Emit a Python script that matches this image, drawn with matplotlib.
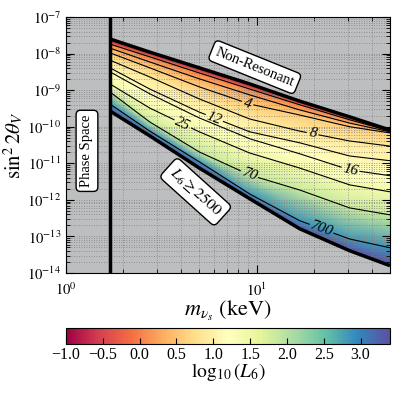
import numpy as np
import matplotlib.pyplot as plt
from matplotlib.colors import Normalize
from matplotlib.cm import ScalarMappable
from matplotlib.ticker import FuncFormatter

plt.rcParams['font.family'] = 'serif'
plt.rcParams['font.serif'] = ['Liberation Serif', 'DejaVu Serif']
plt.rcParams['mathtext.fontset'] = 'stix'

mass_keV = [1.7, 2.75, 5.0, 9.2, 16.8, 30.7, 50.0]

# log10(sin^2 2theta) of each L6 contour, one list per L6 value
L6_values = [0.1, 1, 2, 4, 8, 12, 16, 25, 70, 700, 2500]
log_s2_L6_0p1 = [-7.60, -7.96, -8.39, -8.83, -9.30, -9.73, -10.09]   # non-resonant edge
log_s2_L6_1 = [-7.74, -8.09, -8.53, -8.97, -9.40, -9.81, -10.12]
log_s2_L6_2 = [-7.85, -8.23, -8.69, -9.13, -9.54, -9.90, -10.14]
log_s2_L6_4 = [-7.98, -8.39, -8.91, -9.38, -9.68, -10.00, -10.17]
log_s2_L6_8 = [-8.18, -8.64, -9.24, -9.79, -10.12, -10.39, -10.53]
log_s2_L6_12 = [-8.39, -8.97, -9.60, -10.14, -10.44, -10.80, -10.93]
log_s2_L6_16 = [-8.50, -9.10, -9.76, -10.33, -10.74, -11.18, -11.34]
log_s2_L6_25 = [-8.83, -9.49, -10.14, -10.72, -11.13, -11.59, -11.78]
log_s2_L6_70 = [-9.05, -9.87, -10.69, -11.32, -11.73, -12.22, -12.41]
log_s2_L6_700 = [-9.38, -10.12, -10.96, -11.84, -12.57, -13.07, -13.31]
log_s2_L6_2500 = [-9.57, -10.25, -11.13, -11.97, -12.79, -13.39, -13.80]  # L6 >= 2500 edge

# contour lines without label, and labelled ones (position: log10 m, log10 sin^2)
plain_L6 = [1, 2]
label_L6 = [4, 8, 12, 16, 25, 70, 700]
label_pos = [(0.95, -9.40), (1.29, -10.28), (0.78, -9.73), (1.49, -11.24),
             (0.61, -9.95), (0.96, -11.32), (1.34, -12.79)]

m_min = 1.7  # phase space limit (keV)

rows = [log_s2_L6_0p1, log_s2_L6_1, log_s2_L6_2, log_s2_L6_4, log_s2_L6_8,
        log_s2_L6_12, log_s2_L6_16, log_s2_L6_25, log_s2_L6_70, log_s2_L6_700,
        log_s2_L6_2500]

Y = np.array(rows)
X = np.tile(np.log10(mass_keV), (len(rows), 1))
Z = np.tile(np.log10(L6_values)[:, None], (1, len(mass_keV)))

cmap = plt.get_cmap('Spectral')
norm = Normalize(vmin=-1, vmax=3.4)

fig = plt.figure(figsize=(3.99, 3.99), dpi=100)
ax = fig.add_axes([0.1654, 0.3158, 0.812, 0.6416])
ax.set_facecolor('#bdbebf')

ax.pcolormesh(X, Y, Z, shading='gouraud', cmap=cmap, norm=norm)

eps = 1e-6
ax.contour(X, Y, Z, levels=np.log10(plain_L6) + eps, colors='k', linewidths=0.8)
cs = ax.contour(X, Y, Z, levels=np.log10(label_L6) + eps, colors='k', linewidths=0.8)
lab = ax.clabel(cs, manual=label_pos, inline=True, inline_spacing=3,
                fmt=lambda v: '%d' % round(10 ** v), fontsize=11)
for t in lab:
    t.set_fontstyle('italic')

# boundaries
ax.plot(X[0], Y[0], color='k', lw=2.5, solid_capstyle='butt')
ax.plot(X[-1], Y[-1], color='k', lw=2.5, solid_capstyle='butt')
ax.axvline(np.log10(m_min), color='k', lw=2.5)

ax.set_xlim(0, np.log10(50))
ax.set_ylim(-14, -7)

ax.set_xticks([0, 1])
ax.set_xticklabels([r'$10^{0}$', r'$10^{1}$'])
ax.set_xticks(np.log10([2, 3, 4, 5, 6, 7, 8, 9, 20, 30, 40]), minor=True)
yt = np.arange(-14, -6)
ax.set_yticks(yt)
ax.set_yticklabels([r'$10^{%d}$' % v for v in yt])
ax.set_yticks([n + np.log10(k) for n in range(-14, -7) for k in range(2, 10)], minor=True)
ax.tick_params(which='both', direction='in', top=True, right=True, labelsize=10.5)
ax.tick_params(axis='x', pad=6)
ax.tick_params(which='major', length=6, width=0.8)
ax.tick_params(which='minor', length=3, width=0.6)
ax.grid(True, which='both', color='0.5', lw=0.6, dashes=(1, 2))

ax.set_xlabel(r'$m_{\nu_s}\ (\mathrm{keV})$', fontsize=16, labelpad=0)
ax.set_ylabel(r'$\sin^2 2\theta_V$', fontsize=15, labelpad=1)

box = dict(boxstyle='round,pad=0.3', fc='white', ec='k', lw=1)
ax.text(0.11, -10.66, 'Phase Space', rotation=90, ha='center', va='center',
        fontsize=10.5, bbox=box)
ax.text(0.99, -8.37, 'Non-Resonant', rotation=-22, ha='center', va='center',
        fontsize=10.5, bbox=box, rotation_mode='anchor')
ax.text(0.68, -11.78, r'$L_6 \geq 2500$', rotation=-42, ha='center', va='center',
        fontsize=11.5, bbox=box, rotation_mode='anchor')

cax = fig.add_axes([0.1654, 0.1378, 0.812, 0.040])
cb = fig.colorbar(ScalarMappable(norm=norm, cmap=cmap), cax=cax, orientation='horizontal',
                  ticks=np.arange(-1, 3.01, 0.5),
                  format=FuncFormatter(lambda v, p: ('%.1f' % v).replace('-', '\u2212')))
cb.ax.tick_params(direction='in', length=4, width=0.8, labelsize=11.5, pad=2)
cb.set_label(r'$\log_{10}(L_6)$', fontsize=14, labelpad=-1)

fig.savefig('out.png', dpi=100)
